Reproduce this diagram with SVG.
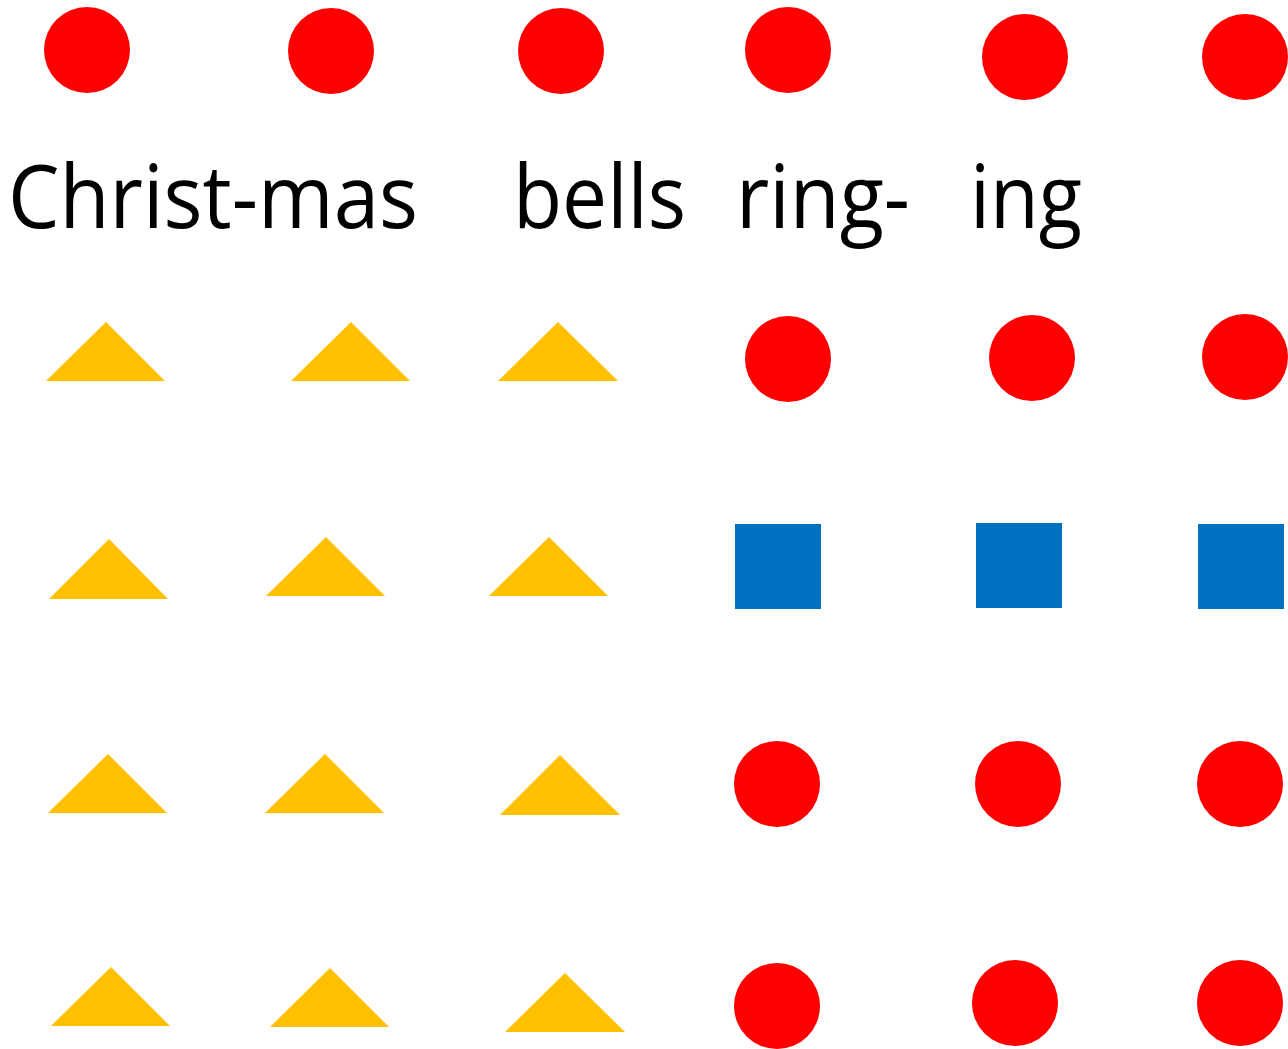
<svg xmlns="http://www.w3.org/2000/svg" width="1288" height="1049" viewBox="0 0 1288 1049">
<style>
.c{fill:#FF0000}
.t{fill:#FFC000}
.s{fill:#0070C0}
.w{font-family:"Open Sans","Liberation Sans",sans-serif;font-size:87px;fill:#000}
</style>
<rect width="1288" height="1049" fill="#fff"/>
<g id="row1">
<circle class="c" cx="87" cy="50" r="43"/>
<circle class="c" cx="331" cy="51" r="43"/>
<circle class="c" cx="561" cy="51" r="43"/>
<circle class="c" cx="788" cy="50" r="43"/>
<circle class="c" cx="1025" cy="57" r="43"/>
<circle class="c" cx="1245" cy="57" r="43"/>
</g>
<g id="lyrics">
<text class="w" x="8" y="228" textLength="410" lengthAdjust="spacingAndGlyphs">Christ-mas</text>
<text class="w" x="513" y="228" textLength="173" lengthAdjust="spacingAndGlyphs">bells</text>
<text class="w" x="736" y="228" textLength="174" lengthAdjust="spacingAndGlyphs">ring-</text>
<text class="w" x="970" y="228" textLength="112" lengthAdjust="spacingAndGlyphs">ing</text>
</g>
<g id="row3">
<polygon class="t" points="46,381 106,322 165,381"/>
<polygon class="t" points="291,381 351,322 410,381"/>
<polygon class="t" points="498,381 558,322 618,381"/>
<circle class="c" cx="788" cy="359" r="43"/>
<circle class="c" cx="1032" cy="358" r="43"/>
<circle class="c" cx="1245" cy="357" r="43"/>
</g>
<g id="row4">
<polygon class="t" points="49,599 109,539 168,599"/>
<polygon class="t" points="266,596 326,537 385,596"/>
<polygon class="t" points="489,596 549,537 608,596"/>
<rect class="s" x="735" y="524" width="86" height="85"/>
<rect class="s" x="976" y="523" width="86" height="85"/>
<rect class="s" x="1198" y="524" width="86" height="85"/>
</g>
<g id="row5">
<polygon class="t" points="48,813 108,754 167,813"/>
<polygon class="t" points="265,813 325,754 384,813"/>
<polygon class="t" points="500,815 560,755 620,815"/>
<circle class="c" cx="777" cy="784" r="43"/>
<circle class="c" cx="1018" cy="784" r="43"/>
<circle class="c" cx="1240" cy="784" r="43"/>
</g>
<g id="row6">
<polygon class="t" points="51,1026 111,967 170,1026"/>
<polygon class="t" points="270,1027 330,968 389,1027"/>
<polygon class="t" points="505,1032 565,973 625,1032"/>
<circle class="c" cx="777" cy="1006" r="43"/>
<circle class="c" cx="1015" cy="1003" r="43"/>
<circle class="c" cx="1240" cy="1003" r="43"/>
</g>
</svg>
